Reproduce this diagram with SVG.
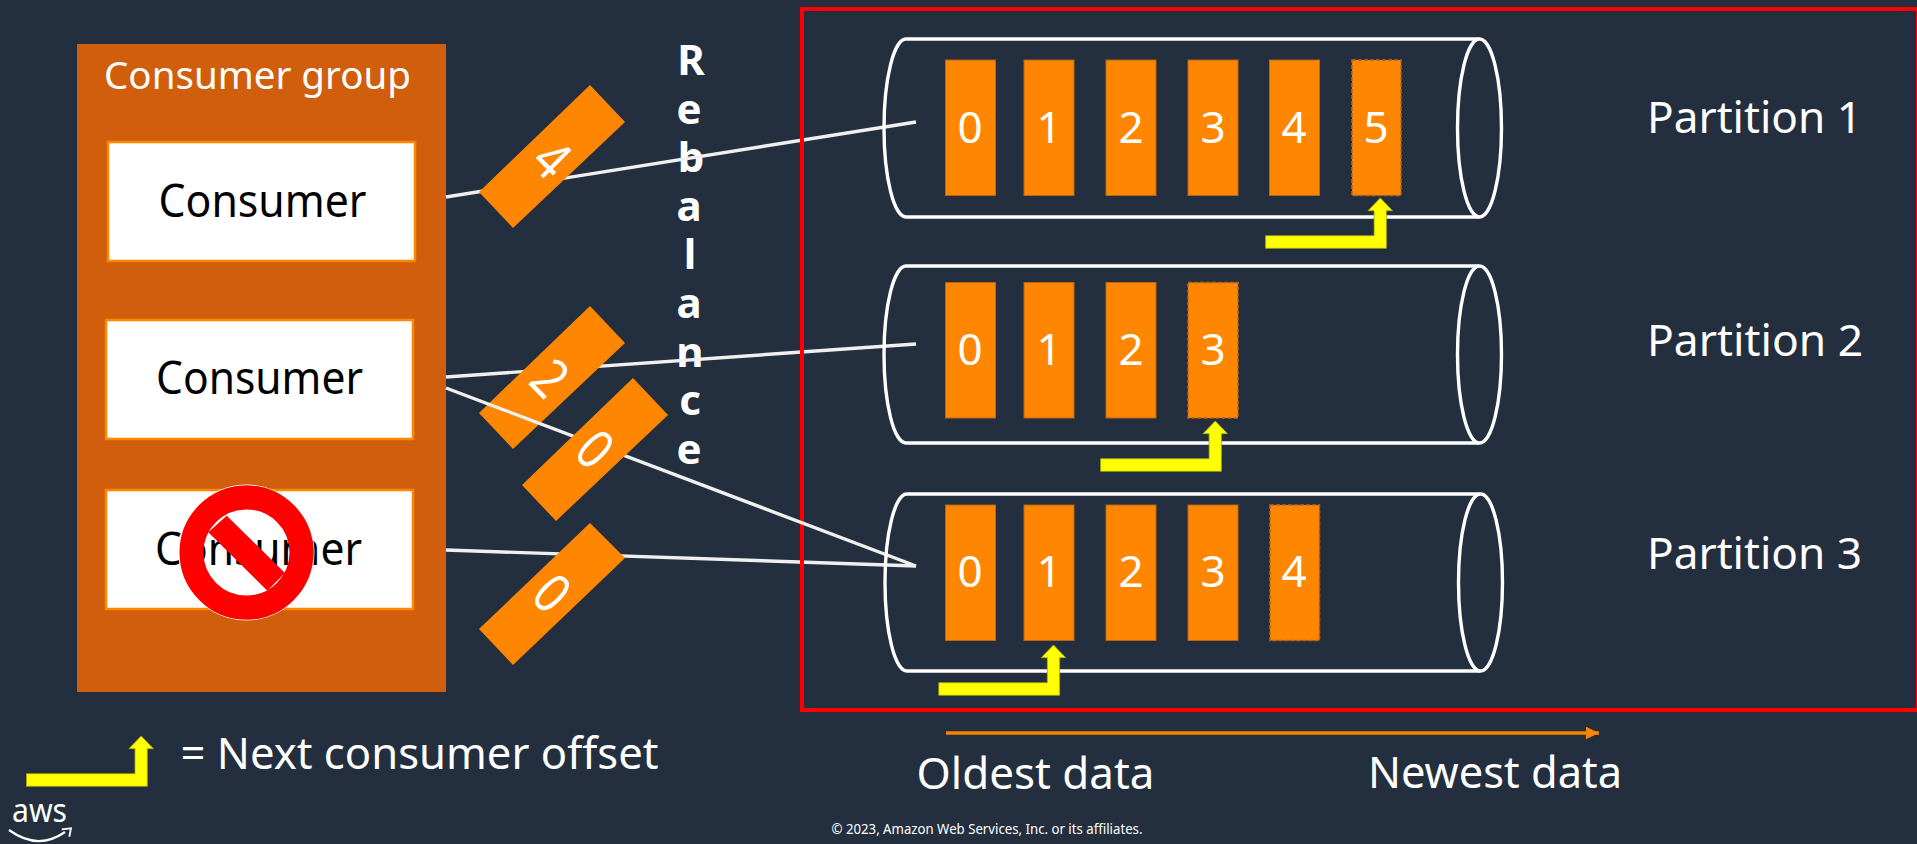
<svg xmlns="http://www.w3.org/2000/svg" xmlns:xlink="http://www.w3.org/1999/xlink" width="1917" height="844" viewBox="0 0 1917 844">
<style>
text{font-family:"Noto Sans","Open Sans","Liberation Sans",sans-serif;fill:#fff}
.lg{font-size:43px}
.ct{font-size:45px;fill:#000}
.dg{font-size:44px;text-anchor:middle}
.td{font-size:46px;text-anchor:middle}
.bar{fill:#FF8600;stroke:#B8651B;stroke-width:1}
.new{fill:#FF8600;stroke:#B8651B;stroke-width:1.5;stroke-dasharray:4 2}
.cyl{fill:none;stroke:#fff;stroke-width:3.4}
.con{fill:none;stroke:#F0F0F0;stroke-width:3.4}
.cb{fill:#fff;stroke:#FF8600;stroke-width:2.5}
.tag{fill:#FF8600}
.off{fill:#FFFF00;stroke:#A8A80F;stroke-width:.8}
</style>
<defs>
<polygon id="offset" class="off" points="0,50.3 120.8,50.3 120.8,12.7 126.9,12.7 114.7,0 102.4,12.7 108.5,12.7 108.5,37.7 0,37.7"/>
<marker id="ah" markerUnits="userSpaceOnUse" markerWidth="14" markerHeight="14" refX="13.4" refY="6.5" orient="auto"><path d="M0,0L13.4,6.5L0,13z" fill="#FF8600"/></marker>
</defs>
<rect width="1917" height="844" fill="#232F3E"/>
<g id="consumer-group">
<rect x="77" y="44" width="369" height="648" fill="#D05E0D"/>
<text x="104" y="89" font-size="38" textLength="307" lengthAdjust="spacingAndGlyphs">Consumer group</text>
</g>
<g id="consumer-1"><rect class="cb" x="108" y="142" width="307" height="119"/><text class="ct" x="158.5" y="217" textLength="208" lengthAdjust="spacingAndGlyphs">Consumer</text></g>
<g id="consumer-2"><rect class="cb" x="106" y="320" width="307" height="119"/><text class="ct" x="156" y="394" textLength="207" lengthAdjust="spacingAndGlyphs">Consumer</text></g>
<g id="consumer-3"><rect class="cb" x="106" y="490" width="307" height="119"/><text class="ct" x="155" y="565" textLength="207" lengthAdjust="spacingAndGlyphs">Consumer</text></g>
<g id="no-sign">
<circle cx="246.5" cy="552.5" r="67.5" fill="none" stroke="#fff" stroke-width="1"/>
<circle cx="246.5" cy="552.5" r="55" fill="none" stroke="#F00" stroke-width="24"/>
<polygon points="226.7,515.7 285,573 267.3,590.7 208.3,532.3" fill="#F00"/>
</g>
<g id="rebalance">
<text font-size="42" font-weight="700" text-anchor="middle"><tspan x="691" y="75">R</tspan><tspan x="689" y="123.6">e</tspan><tspan x="691" y="172">b</tspan><tspan x="689" y="221">a</tspan><tspan x="690" y="269">l</tspan><tspan x="689" y="318">a</tspan><tspan x="690" y="367">n</tspan><tspan x="690" y="415">c</tspan><tspan x="689" y="464">e</tspan></text>
</g>
<g id="connectors">
<line class="con" x1="446" y1="197" x2="916" y2="122"/>
<line class="con" x1="446" y1="377" x2="916" y2="344"/>
<line class="con" x1="446" y1="550" x2="916" y2="566"/>
</g>
<g id="tag-4"><polygon class="tag" points="590,85 625,122 513,228 479,192"/><text class="td" transform="translate(552 159) rotate(45) scale(1 1.2)" y="16.5">4</text></g>
<g id="tag-2"><polygon class="tag" points="590,306 625,343 513,449 479,413"/><text class="td" transform="translate(550 378) rotate(45) scale(1 1.2)" y="16.5">2</text></g>
<rect id="topic-frame" x="802" y="9" width="1116" height="701" fill="none" stroke="#F00" stroke-width="4"/>
<g id="connector-3"><line class="con" x1="446" y1="388" x2="916" y2="566"/></g>
<g id="tag-0a"><polygon class="tag" points="633,378 668,415 556,521 522,485"/><text class="td" transform="translate(595 449) rotate(45) scale(1 1.2)" y="16.5">0</text></g>
<g id="tag-0b"><polygon class="tag" points="590,523 625,558 513,665 479,629"/><text class="td" transform="translate(552 593) rotate(45) scale(1 1.2)" y="16.5">0</text></g>
<g id="partition-1">
<path class="cyl" d="M1479,39H906A22,89 0 0 0 906,217H1479"/><ellipse class="cyl" cx="1479.5" cy="128" rx="22" ry="89"/>
<rect class="bar" x="945.5" y="60" width="50" height="135.5"/><rect class="bar" x="1024" y="60" width="50" height="135.5"/><rect class="bar" x="1106" y="60" width="50" height="135.5"/><rect class="bar" x="1188" y="60" width="50" height="135.5"/><rect class="bar" x="1269.5" y="60" width="50" height="135.5"/><rect class="new" x="1352" y="60" width="49" height="135.5"/>
<text class="dg" x="970" y="143">0</text><text class="dg" x="1049" y="143">1</text><text class="dg" x="1131" y="143">2</text><text class="dg" x="1213" y="143">3</text><text class="dg" x="1294" y="143">4</text><text class="dg" x="1376" y="143">5</text>
<use xlink:href="#offset" href="#offset" x="1265.6" y="198"/>
<text class="lg" x="1647" y="133" textLength="215" lengthAdjust="spacingAndGlyphs">Partition 1</text>
</g>
<g id="partition-2">
<path class="cyl" d="M1479,266H906A22,88.5 0 0 0 906,443H1479"/><ellipse class="cyl" cx="1479.5" cy="354.5" rx="22" ry="88.5"/>
<rect class="bar" x="945.5" y="282.5" width="50" height="135.5"/><rect class="bar" x="1024" y="282.5" width="50" height="135.5"/><rect class="bar" x="1106" y="282.5" width="50" height="135.5"/><rect class="new" x="1188" y="282.5" width="50" height="135.5"/>
<text class="dg" x="970" y="365">0</text><text class="dg" x="1049" y="365">1</text><text class="dg" x="1131" y="365">2</text><text class="dg" x="1213" y="365">3</text>
<use xlink:href="#offset" href="#offset" x="1100.6" y="421"/>
<text class="lg" x="1647" y="355.5" textLength="216" lengthAdjust="spacingAndGlyphs">Partition 2</text>
</g>
<g id="partition-3">
<path class="cyl" d="M1480,494H907A22,88.5 0 0 0 907,671H1480"/><ellipse class="cyl" cx="1480.5" cy="582.5" rx="22" ry="88.5"/>
<rect class="bar" x="945.5" y="505" width="50" height="135.5"/><rect class="bar" x="1024" y="505" width="50" height="135.5"/><rect class="bar" x="1106" y="505" width="50" height="135.5"/><rect class="bar" x="1188" y="505" width="50" height="135.5"/><rect class="new" x="1270" y="505" width="49.5" height="135.5"/>
<text class="dg" x="970" y="587">0</text><text class="dg" x="1049" y="587">1</text><text class="dg" x="1131" y="587">2</text><text class="dg" x="1213" y="587">3</text><text class="dg" x="1294" y="587">4</text>
<use xlink:href="#offset" href="#offset" x="938.8" y="645"/>
<text class="lg" x="1647" y="568.5" textLength="215" lengthAdjust="spacingAndGlyphs">Partition 3</text>
</g>
<g id="timeline">
<line x1="946" y1="733" x2="1599" y2="733" stroke="#F58300" stroke-width="3.6" marker-end="url(#ah)"/>
<text class="lg" x="916.5" y="788.5" textLength="238" lengthAdjust="spacingAndGlyphs">Oldest data</text>
<text class="lg" x="1368" y="787.5" textLength="254" lengthAdjust="spacingAndGlyphs">Newest data</text>
</g>
<g id="legend">
<use xlink:href="#offset" href="#offset" x="26.5" y="736"/>
<text class="lg" x="180.5" y="768.5" textLength="478" lengthAdjust="spacingAndGlyphs">= Next consumer offset</text>
</g>
<g id="aws-logo">
<text x="12" y="821.7" font-size="32" textLength="55" lengthAdjust="spacingAndGlyphs">aws</text>
<path d="M9,830Q38,851 65,832" fill="none" stroke="#fff" stroke-width="2.2"/><path d="M61.7,829.3L71,828.3L69.3,836.7" fill="none" stroke="#fff" stroke-width="1.8"/>
</g>
<text id="copyright" x="831.5" y="834" font-size="14" textLength="311" lengthAdjust="spacingAndGlyphs">© 2023, Amazon Web Services, Inc. or its affiliates.</text>
</svg>
